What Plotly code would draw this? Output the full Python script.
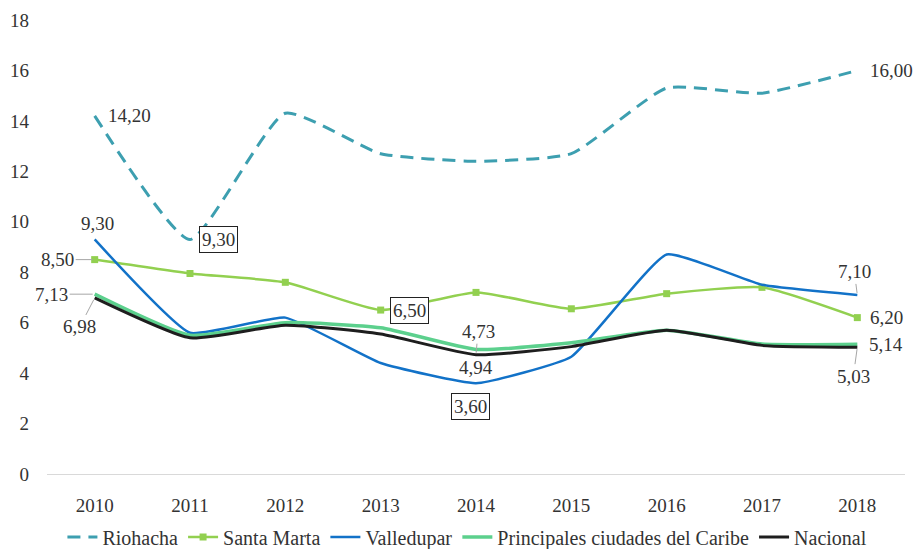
import plotly.graph_objects as go

years = [2010, 2011, 2012, 2013, 2014, 2015, 2016, 2017, 2018]
riohacha = [14.20, 9.30, 14.30, 12.70, 12.40, 12.70, 15.30, 15.10, 16.00]
santa_marta = [8.50, 7.95, 7.60, 6.50, 7.20, 6.55, 7.15, 7.40, 6.20]
valledupar = [9.30, 5.60, 6.20, 4.40, 3.60, 4.65, 8.70, 7.50, 7.10]
caribe = [7.13, 5.50, 6.00, 5.80, 4.94, 5.20, 5.70, 5.15, 5.14]
nacional = [6.98, 5.40, 5.90, 5.55, 4.73, 5.05, 5.70, 5.10, 5.03]

series_names = ["Riohacha", "Santa Marta", "Valledupar", "Principales ciudades del Caribe", "Nacional"]
FONT = "Liberation Serif"
TXT = "#333333"

fig = go.Figure()
fig.add_trace(go.Scatter(x=years, y=riohacha, name=series_names[0], mode="lines",
                         line=dict(color="#3d9fb0", width=3, dash="13px,8px", shape="spline", smoothing=0.5)))
fig.add_trace(go.Scatter(x=years, y=santa_marta, name=series_names[1], mode="lines+markers",
                         line=dict(color="#92d050", width=2.5, shape="spline", smoothing=0.5),
                         marker=dict(symbol="square", size=7, color="#92d050")))
fig.add_trace(go.Scatter(x=years, y=valledupar, name=series_names[2], mode="lines",
                         line=dict(color="#1272c8", width=2.5, shape="spline", smoothing=0.4)))
fig.add_trace(go.Scatter(x=years, y=caribe, name=series_names[3], mode="lines",
                         line=dict(color="#5cd08d", width=3.5, shape="spline", smoothing=0.5)))
fig.add_trace(go.Scatter(x=years, y=nacional, name=series_names[4], mode="lines",
                         line=dict(color="#1e1e1e", width=3, shape="spline", smoothing=0.5)))


def fmt(v):
    return f"{v:.2f}".replace(".", ",")


def label(series, i, xshift=0, yshift=0, boxed=False, xanchor="center"):
    kw = dict(bordercolor="#222222", borderwidth=1, borderpad=2, bgcolor="white") if boxed else {}
    fig.add_annotation(x=years[i], y=series[i], xref="x", yref="y", text=fmt(series[i]),
                       showarrow=False, xshift=xshift, yshift=yshift, xanchor=xanchor,
                       font=dict(family=FONT, size=19, color=TXT), **kw)


def leader(series, i, ax, ay):
    fig.add_annotation(x=years[i], y=series[i], xref="x", yref="y", text=fmt(series[i]),
                       showarrow=True, arrowhead=0, arrowwidth=1, arrowcolor="#a6a6a6",
                       ax=ax, ay=ay, standoff=2,
                       font=dict(family=FONT, size=19, color=TXT))


label(riohacha, 0, xshift=35)
label(riohacha, 1, xshift=28, boxed=True)
label(valledupar, 0, xshift=3, yshift=16)
leader(santa_marta, 0, -37, 0)
leader(caribe, 0, -43, 0)
leader(nacional, 0, -15, 29)
label(santa_marta, 3, xshift=29, boxed=True)
leader(nacional, 4, 2, -23)
label(caribe, 4, yshift=-18)
label(valledupar, 4, xshift=-6, yshift=-23, boxed=True)
label(riohacha, 8, xshift=11, xanchor="left")
leader(valledupar, 8, -3, -23)
label(santa_marta, 8, xshift=29)
label(caribe, 8, xshift=29)
leader(nacional, 8, -4, 29)

fig.update_layout(
    width=916, height=549,
    margin=dict(l=47, r=11, t=20, b=75, autoexpand=False),
    paper_bgcolor="white", plot_bgcolor="white",
    font=dict(family=FONT, size=19, color=TXT),
    showlegend=True,
    legend=dict(orientation="h", x=0.49, xanchor="center", y=-0.139, yanchor="middle",
                font=dict(family=FONT, size=20, color=TXT), tracegroupgap=0, itemwidth=30),
)
fig.update_xaxes(range=[2009.5, 2018.5], tickmode="array", tickvals=years,
                 ticktext=[str(y) for y in years], showline=True, linecolor="#d9d9d9",
                 linewidth=1, showgrid=False, ticks="", ticklabelstandoff=14, zeroline=False,
                 automargin=False)
fig.update_yaxes(range=[0, 18], dtick=2, showgrid=False, zeroline=False, showline=False,
                 ticks="", ticklabelstandoff=17, automargin=False)

fig.write_html("out.html", config={"displayModeBar": False},
               post_script="document.body.style.margin='0';document.body.style.overflow='hidden';")
